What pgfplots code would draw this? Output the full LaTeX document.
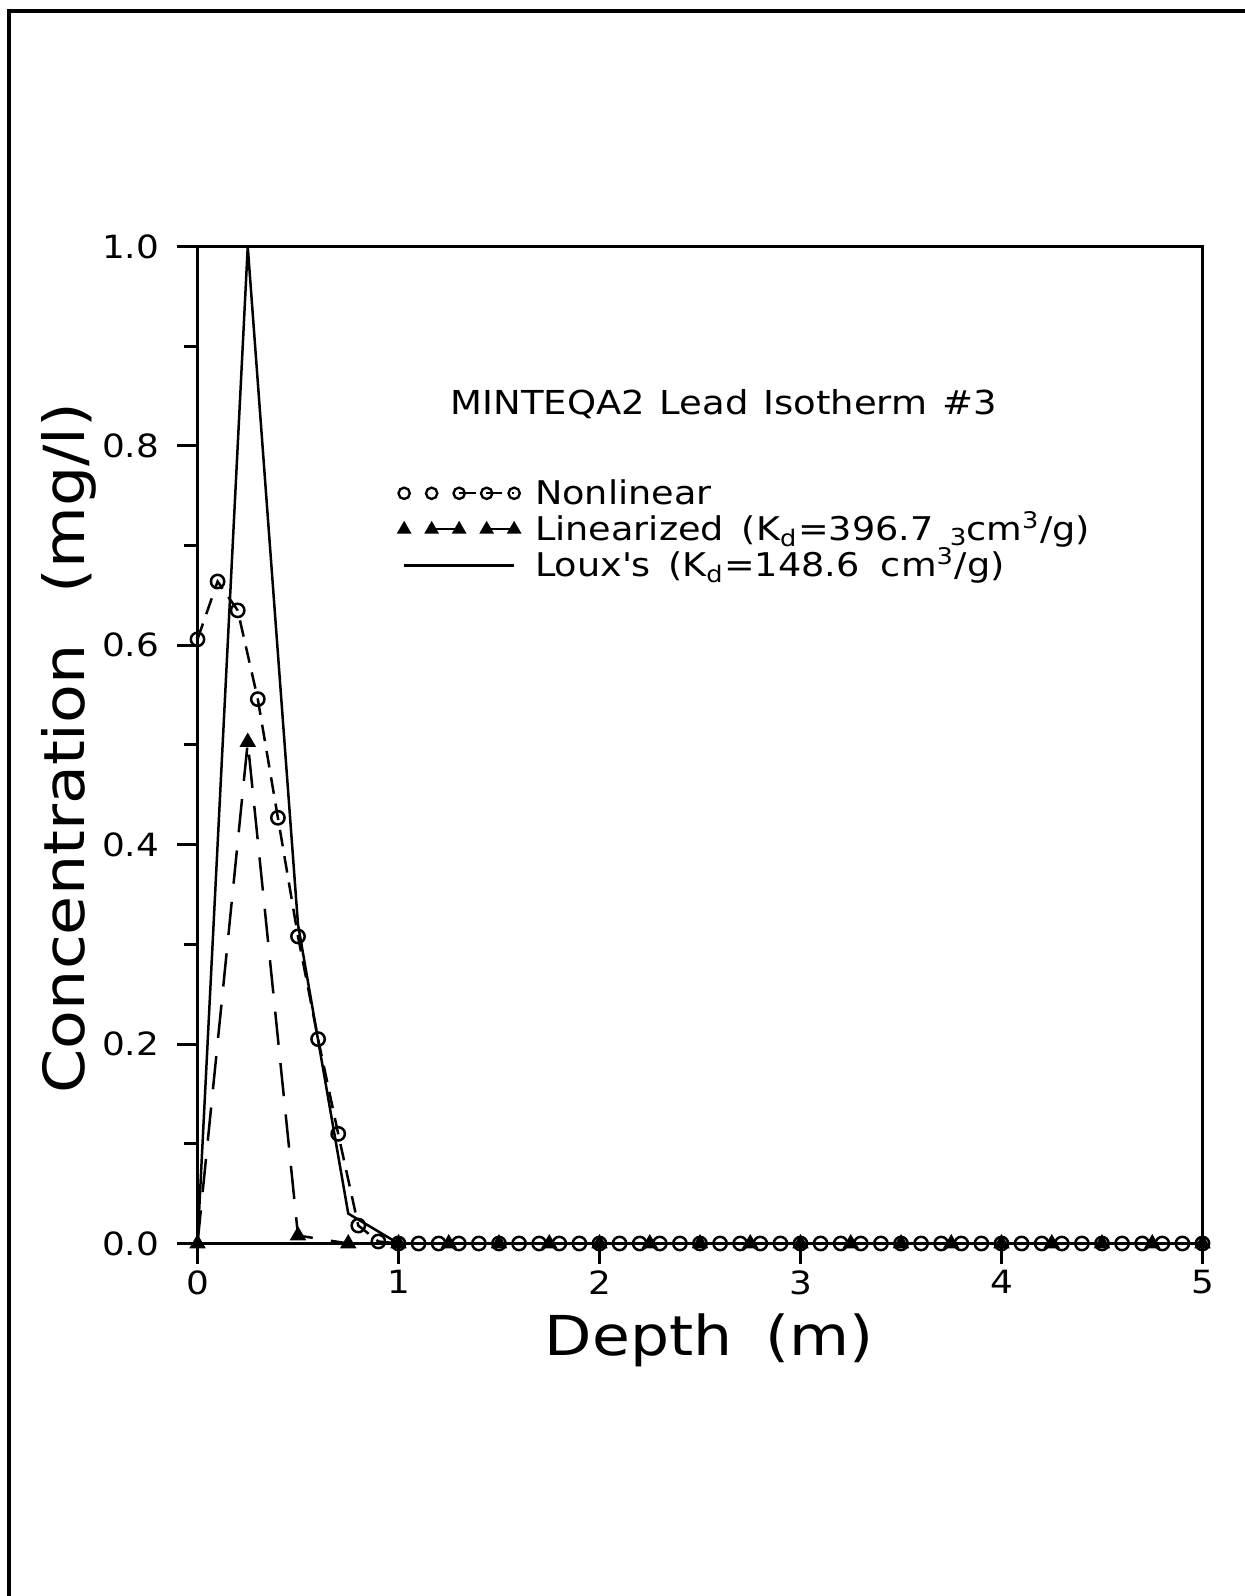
\documentclass[border=0pt]{standalone}
\usepackage{fontspec}
\setmainfont{DejaVu Sans}[FakeStretch=1.12]
\usepackage{pgfplots}
\pgfplotsset{compat=1.18}
\begin{document}
\begin{tikzpicture}
\begin{axis}[
  at={(0pt,0pt)}, anchor=south west,
  scale only axis, width=301.5pt, height=299.1pt,
  xmin=0, xmax=5, ymin=0, ymax=1,
  axis line style={line width=0.9pt},
  xtick={0,1,2,3,4,5},
  ytick={0,0.2,0.4,0.6,0.8,1.0},
  minor ytick={0.1,0.3,0.5,0.7,0.9},
  tick align=outside,
  tick pos=left,
  major tick length=6pt, minor tick length=3.9pt,
  every tick/.style={line width=0.9pt, black},
  /pgf/number format/assume math mode=true,
  ticklabel style={font=\fontsize{9.6}{11}\selectfont},
  yticklabel style={xshift=-2pt, /pgf/number format/.cd, fixed, fixed zerofill, precision=1},
  xticklabel style={yshift=1.5pt},
  xlabel={Depth\hspace{0.6em}(m)},
  ylabel={Concentration\hspace{0.9em}(mg/l)},
  xlabel style={font=\fontsize{16.5}{18}\selectfont, at={(axis description cs:0.509,-0.1128)}, anchor=base},
  ylabel style={font=\fontsize{17}{18}\selectfont, at={(axis description cs:-0.112,0.497)}, anchor=base},
  clip=false,
  legend cell align=left,
  legend style={at={(axis description cs:0.2000,0.7705)}, anchor=north west,
    draw=none, fill=none, inner sep=0pt, outer sep=0pt, row sep=0pt, column sep=4.6pt,
    font=\fontsize{9.8}{11}\selectfont,
    nodes={inner sep=0pt, text height=8.7pt, text depth=2.1pt}},
]
\addplot[black, line width=0.75pt, dash pattern=on 5pt off 3pt, mark=o, mark size=2pt,
  mark options={solid, line width=0.75pt},
  legend image code/.code={
    \draw[line width=0.7pt] (16.5pt,0pt) -- (33pt,0pt);
    \draw[only marks, mark=o, mark size=1.7pt, mark options={solid, line width=0.7pt}]
      plot coordinates {(0pt,0pt) (8.25pt,0pt) (16.5pt,0pt) (24.75pt,0pt) (33pt,0pt)};
  }] coordinates {
(0,0.606) (0.1,0.664) (0.2,0.635) (0.3,0.546) (0.4,0.427) (0.5,0.308) (0.6,0.205) (0.7,0.110) (0.8,0.018) (0.9,0.002)
(1.0,0) (1.1,0) (1.2,0) (1.3,0) (1.4,0) (1.5,0) (1.6,0) (1.7,0) (1.8,0) (1.9,0)
(2.0,0) (2.1,0) (2.2,0) (2.3,0) (2.4,0) (2.5,0) (2.6,0) (2.7,0) (2.8,0) (2.9,0)
(3.0,0) (3.1,0) (3.2,0) (3.3,0) (3.4,0) (3.5,0) (3.6,0) (3.7,0) (3.8,0) (3.9,0)
(4.0,0) (4.1,0) (4.2,0) (4.3,0) (4.4,0) (4.5,0) (4.6,0) (4.7,0) (4.8,0) (4.9,0) (5.0,0)
};
\addlegendentry{Nonlinear}
\addplot[black, line width=0.75pt, dash pattern=on 10pt off 5.5pt, mark=triangle*, mark size=2.1pt,
  mark options={solid},
  legend image code/.code={
    \draw[line width=0.7pt] (8.25pt,0pt) -- (16.5pt,0pt);
    \draw[line width=0.7pt] (24.75pt,0pt) -- (33pt,0pt);
    \draw[only marks, mark=triangle*, mark size=1.8pt, mark options={solid}]
      plot coordinates {(0pt,0pt) (8.25pt,0pt) (16.5pt,0pt) (24.75pt,0pt) (33pt,0pt)};
  }] coordinates {
(0,0) (0.25,0.503) (0.5,0.008) (0.75,0) (1.0,0) (1.25,0) (1.5,0) (1.75,0) (2.0,0) (2.25,0)
(2.5,0) (2.75,0) (3.0,0) (3.25,0) (3.5,0) (3.75,0) (4.0,0) (4.25,0) (4.5,0) (4.75,0) (5.0,0)
};
\addlegendentry{Linearized\hspace{0.55em}(K\textsubscript{d}=396.7\hspace{0.5em}\raisebox{-0.3ex}{\scriptsize 3}cm\textsuperscript{3}/g)}
\addplot[black, line width=0.75pt, solid,
  legend image code/.code={
    \draw[line width=0.8pt] (0pt,0pt) -- (33pt,0pt);
  }] coordinates {
(0,0) (0.25,1.0) (0.5,0.32) (0.75,0.03) (1.0,0) (1.25,0) (1.5,0) (1.75,0) (2.0,0)
(2.5,0) (3.0,0) (3.5,0) (4.0,0) (4.5,0) (5.0,0)
};
\addlegendentry{Loux\textquotesingle s\hspace{0.55em}(K\textsubscript{d}=148.6\hspace{0.65em}cm\textsuperscript{3}/g)}
\node[anchor=base, font=\fontsize{9.9}{11}\selectfont] at (axis cs:2.618,0.831)
  {MINTEQA2\hspace{0.45em}Lead\hspace{0.45em}Isotherm\hspace{0.45em}\#3};
\end{axis}
\draw[line width=1.2pt] (-56.64pt,-110pt) -- (-56.64pt,369.66pt) -- (320pt,369.66pt);
\pgfresetboundingbox
\path[use as bounding box] (-59.25pt,-105.75pt) rectangle (313.95pt,373.05pt);
\end{tikzpicture}
\end{document}
